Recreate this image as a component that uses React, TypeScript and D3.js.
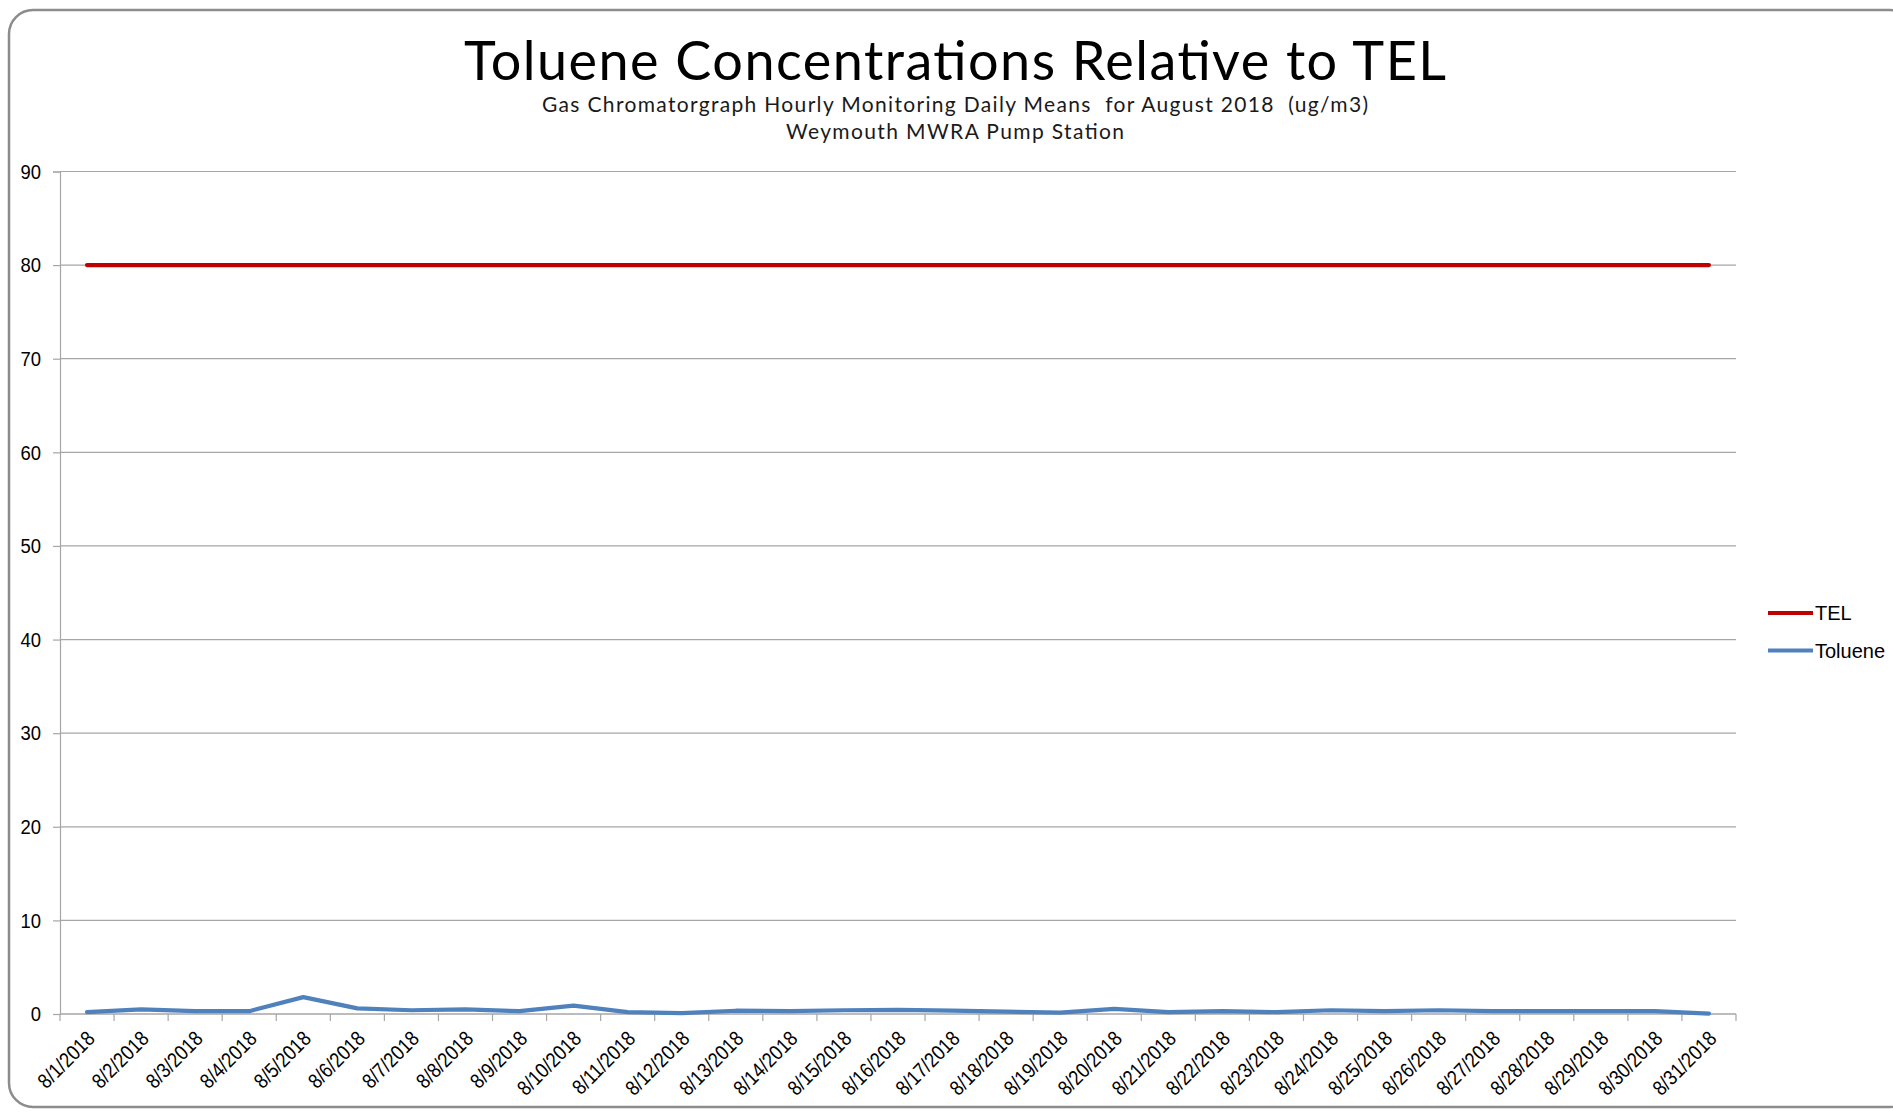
import React, { useEffect, useRef } from 'react';
import * as d3 from 'd3';

// category labels (one per day)
const days = [
  "8/1/2018", "8/2/2018", "8/3/2018", "8/4/2018", "8/5/2018", "8/6/2018", "8/7/2018", "8/8/2018",
  "8/9/2018", "8/10/2018", "8/11/2018", "8/12/2018", "8/13/2018", "8/14/2018", "8/15/2018", "8/16/2018",
  "8/17/2018", "8/18/2018", "8/19/2018", "8/20/2018", "8/21/2018", "8/22/2018", "8/23/2018", "8/24/2018",
  "8/25/2018", "8/26/2018", "8/27/2018", "8/28/2018", "8/29/2018", "8/30/2018", "8/31/2018"
];

// daily mean toluene (ug/m3)
const toluene = [
  0.2, 0.5, 0.3, 0.3, 1.8, 0.6, 0.4, 0.5, 0.3, 0.9, 0.2, 0.1, 0.35, 0.3, 0.4, 0.45,
  0.35, 0.25, 0.15, 0.55, 0.2, 0.3, 0.2, 0.4, 0.3, 0.4, 0.3, 0.3, 0.3, 0.3, 0.05
];

// threshold effects limit, constant across the month
const tel = days.map(() => 80);

const yTicks = [0, 10, 20, 30, 40, 50, 60, 70, 80, 90];

const series = [
  { name: "TEL", values: tel, color: "#C00000" },
  { name: "Toluene", values: toluene, color: "#4F81BD" },
];

const W = 1893;
const H = 1112;
const labelFont = "'Liberation Sans', Arial, sans-serif";
const titleFont = "Lato, 'Open Sans', sans-serif";

const App: React.FC = () => {
  const svgRef = useRef<SVGSVGElement>(null);

  useEffect(() => {
    if (!svgRef.current) return;
    const svg = d3.select(svgRef.current);
    svg.selectAll("*").remove();

    const left = 60, right = 1736, top = 171.5, bottom = 1014;

    // outer rounded frame
    svg.append("rect")
      .attr("x", 9).attr("y", 10)
      .attr("width", 1905).attr("height", 1097)
      .attr("rx", 24).attr("ry", 24)
      .attr("fill", "#fff")
      .attr("stroke", "#8c8c8c")
      .attr("stroke-width", 2.5);

    // titles
    svg.append("text")
      .attr("x", 955).attr("y", 80)
      .attr("text-anchor", "middle")
      .style("font-family", titleFont)
      .style("font-size", "54px")
      .attr("textLength", 982)
      .attr("fill", "#000")
      .text("Toluene Concentrations Relative to TEL");

    svg.append("text")
      .attr("x", 955).attr("y", 112)
      .attr("text-anchor", "middle")
      .style("font-family", titleFont)
      .style("font-size", "21px")
      .attr("textLength", 826)
      .attr("fill", "#1a1a1a")
      .style("white-space", "pre")
      .text("Gas Chromatorgraph Hourly Monitoring Daily Means  for August 2018  (ug/m3)");

    svg.append("text")
      .attr("x", 955).attr("y", 139)
      .attr("text-anchor", "middle")
      .style("font-family", titleFont)
      .style("font-size", "21px")
      .attr("textLength", 338)
      .attr("fill", "#1a1a1a")
      .text("Weymouth MWRA Pump Station");

    const x = d3.scaleBand<string>().domain(days).range([left, right]).padding(0);
    const y = d3.scaleLinear().domain([0, 90]).range([bottom, top]);

    const g = svg.append("g");

    // horizontal gridlines
    g.selectAll("line.grid")
      .data(yTicks)
      .enter().append("line")
      .attr("class", "grid")
      .attr("x1", left).attr("x2", right)
      .attr("y1", d => y(d)).attr("y2", d => y(d))
      .attr("stroke", "#a6a6a6")
      .attr("stroke-width", 1.2);

    // y axis
    const yAxis = g.append("g")
      .attr("transform", `translate(${left},0)`)
      .call(d3.axisLeft(y).tickValues(yTicks).tickSize(7).tickPadding(10).tickFormat(d3.format("d")));
    yAxis.select(".domain").attr("stroke", "#a6a6a6").attr("stroke-width", 1.2);
    yAxis.selectAll(".tick line").attr("stroke", "#a6a6a6").attr("stroke-width", 1.2);
    yAxis.selectAll(".tick text")
      .style("font-family", labelFont)
      .style("font-size", "21px")
      .attr("transform", "scale(0.88,1)")
      .attr("x", -19 / 0.88)
      .attr("fill", "#000");

    // x axis: ticks between categories
    const xAxis = g.append("g").attr("transform", `translate(0,${bottom})`);
    xAxis.append("line")
      .attr("x1", left).attr("x2", right)
      .attr("stroke", "#a6a6a6").attr("stroke-width", 1.2);
    const edges = days.map(d => x(d) as number).concat([right]);
    xAxis.selectAll("line.tick")
      .data(edges)
      .enter().append("line")
      .attr("class", "tick")
      .attr("x1", d => d).attr("x2", d => d)
      .attr("y1", 0).attr("y2", 7)
      .attr("stroke", "#a6a6a6").attr("stroke-width", 1.2);

    const cx = (d: string) => (x(d) as number) + x.bandwidth() / 2;

    xAxis.selectAll("text.lbl")
      .data(days)
      .enter().append("text")
      .attr("class", "lbl")
      .attr("transform", d => `translate(${cx(d) + 9},${26}) rotate(-45) scale(0.86,1)`)
      .attr("text-anchor", "end")
      .style("font-family", labelFont)
      .style("font-size", "21px")
      .attr("fill", "#000")
      .text(d => d);

    // lines
    const line = d3.line<number>()
      .x((_, i) => cx(days[i]))
      .y(v => y(v));

    series.forEach(s => {
      g.append("path")
        .datum(s.values)
        .attr("fill", "none")
        .attr("stroke", s.color)
        .attr("stroke-width", 4.2)
        .attr("stroke-linejoin", "round")
        .attr("stroke-linecap", "round")
        .attr("d", line);
    });

    // legend
    const legend = svg.append("g").attr("transform", "translate(1768,613)");
    series.forEach((s, i) => {
      const row = legend.append("g").attr("transform", `translate(0,${i * 37.5})`);
      row.append("line")
        .attr("x1", 0).attr("x2", 45)
        .attr("stroke", s.color).attr("stroke-width", 4);
      row.append("text")
        .attr("x", 47).attr("y", 0).attr("dy", "0.35em")
        .attr("transform", "scale(1,1)")
        .style("font-family", labelFont)
        .style("font-size", "20px")
        .attr("fill", "#000")
        .text(s.name);
    });
  }, []);

  return (
    <svg
      ref={svgRef}
      width={W}
      height={H}
      style={{ position: 'absolute', left: 0, top: 0, background: '#fff' }}
    />
  );
};

export default App;
